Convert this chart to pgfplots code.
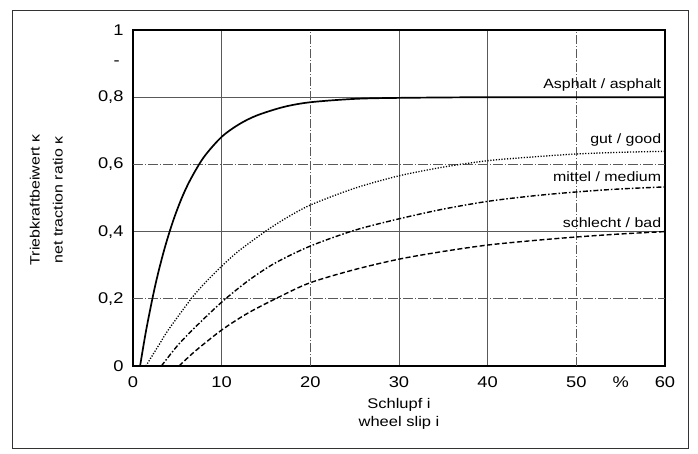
\documentclass[border=0pt]{standalone}
\usepackage{fontspec}
\setmainfont{Liberation Sans}[FakeStretch=1.18]
\usepackage{pgfplots}
\pgfplotsset{compat=1.18}
\begin{document}
\begin{tikzpicture}[font=\fontsize{13.5bp}{16bp}\selectfont]
\useasboundingbox (-133bp,-88bp) rectangle (565bp,366bp);
\draw[line width=0.9bp, black!80] (-121bp,-82bp) rectangle (555bp,356bp);
\begin{axis}[
  at={(0,0)}, anchor=south west,
  scale only axis, width=532bp, height=336bp,
  xmin=0, xmax=60, ymin=0, ymax=1,
  xtick={0,10,30,40,60},
  xticklabels={0,10,30,40,60},
  extra x ticks={20,50},
  extra x tick labels={20,50},
  extra x tick style={grid style={line width=0.7bp, black!50, dash pattern=on 9bp off 2bp on 1bp off 2bp}},
  ytick={0,0.4,0.8,1},
  yticklabels={0,{0,4},{0,8},1},
  extra y ticks={0.2,0.6},
  extra y tick labels={{0,2},{0,6}},
  extra y tick style={grid style={line width=0.7bp, black!65, dash pattern=on 10bp off 2bp on 1bp off 2bp}},
  grid=major,
  major grid style={line width=0.7bp, black!65},
  major tick length=0pt,
  axis line style={line width=2.3bp},
  tick label style={font=\fontsize{15.5bp}{18bp}\selectfont},
  xticklabel style={yshift=-7bp},
  yticklabel style={xshift=-6bp},
  /pgf/number format/assume math mode=true,
  clip=false,
]
% Asphalt / asphalt
\addplot[black, line width=1.7bp, smooth] coordinates {
(0.8,0) (1.5,0.109) (2.5,0.239) (3.5,0.344) (4.5,0.43) (5.5,0.5) (6.5,0.556)
(8,0.622) (10,0.682) (12,0.72) (14,0.746) (17,0.771) (20,0.785) (25,0.795)
(30,0.798) (40,0.8) (50,0.8) (60,0.8)};
% gut / good
\addplot[black, line width=1.3bp, dash pattern=on 1.2bp off 1.6bp, smooth] coordinates {
(1.45,0) (3,0.066) (4,0.108) (6.5,0.198) (8,0.244) (10,0.297) (12,0.344) (14.9,0.4)
(17,0.436) (20,0.479) (25,0.529) (30,0.566) (35,0.592) (40,0.611) (45,0.622)
(50,0.631) (55,0.636) (60,0.639)};
% mittel / medium
\addplot[black, line width=1.4bp, dash pattern=on 5bp off 2bp on 1.5bp off 2bp, smooth] coordinates {
(3.2,0) (5,0.06) (7,0.115) (10,0.19) (13,0.254) (16,0.306) (20,0.357) (25,0.404)
(30,0.438) (35,0.467) (40,0.49) (45,0.506) (50,0.518) (55,0.527) (60,0.533)};
% schlecht / bad
\addplot[black, line width=1.4bp, dash pattern=on 5bp off 2.5bp, smooth] coordinates {
(5.2,0) (7,0.044) (10,0.107) (13,0.158) (16.6,0.207) (20,0.248) (25,0.287)
(30,0.318) (35,0.341) (40,0.36) (45,0.373) (50,0.384) (55,0.393) (60,0.4)};
\node[anchor=east, inner sep=1bp] at (axis cs:59.7,0.836) {Asphalt / asphalt};
\node[anchor=east, inner sep=1bp] at (axis cs:59.7,0.672) {gut / good};
\node[anchor=east, inner sep=1bp] at (axis cs:59.7,0.562) {mittel / medium};
\node[anchor=east, inner sep=1bp] at (axis cs:59.7,0.428) {schlecht / bad};
\node[anchor=north, inner sep=0pt, yshift=-11bp, font=\fontsize{15.5bp}{18bp}\selectfont] at (axis cs:55,0) {\%};
\node[anchor=east, inner sep=0pt, xshift=-13bp, font=\fontsize{15.5bp}{18bp}\selectfont] at (axis cs:0,0.9) {-};
\end{axis}
\node[rotate=90, anchor=south, align=center, inner sep=0pt, font=\fontsize{13.5bp}{23bp}\selectfont] at (-70bp,166bp) {Triebkraftbeiwert κ\\net traction ratio κ};
\node[anchor=north, align=center, inner sep=0pt, font=\fontsize{14bp}{18bp}\selectfont] at (266bp,-32bp) {Schlupf i\\wheel slip i};
\end{tikzpicture}
\end{document}
